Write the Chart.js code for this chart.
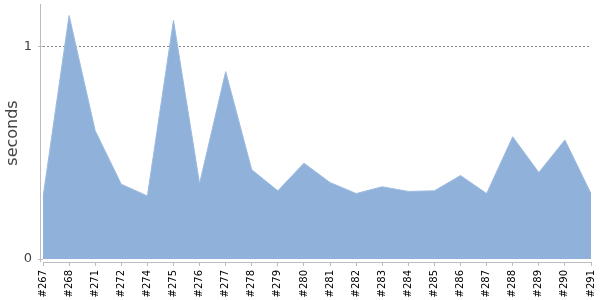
<!DOCTYPE html>
<html>
<head>
<meta charset="utf-8">
<script src="https://cdn.jsdelivr.net/npm/chart.js@4/dist/chart.umd.min.js"></script>
<style>
  html, body { margin: 0; padding: 0; background: #fff; }
  #wrap { width: 600px; height: 300px; }
</style>
</head>
<body>
<div id="wrap"><canvas id="buildChart"></canvas></div>
<script>
// Builds et durées (secondes)
const builds = ['#267', '#268', '#271', '#272', '#274', '#275', '#276', '#277', '#278', '#279', '#280',
                '#281', '#282', '#283', '#284', '#285', '#286', '#287', '#288', '#289', '#290', '#291'];
const durations = [0.29, 1.146, 0.604, 0.352, 0.297, 1.123, 0.355, 0.882, 0.42, 0.321, 0.451,
                   0.36, 0.308, 0.34, 0.318, 0.321, 0.393, 0.308, 0.575, 0.407, 0.56, 0.308];
const yTicks = [0, 1];

// Trace l'axe vertical un peu à gauche de la zone de tracé
const yAxisLine = {
    id: 'yAxisLine',
    afterDraw(chart) {
        const ctx = chart.ctx;
        const area = chart.chartArea;
        ctx.save();
        ctx.strokeStyle = '#bdbdbd';
        ctx.lineWidth = 1;
        ctx.beginPath();
        ctx.moveTo(area.left - 2.5, area.top);
        ctx.lineTo(area.left - 2.5, area.bottom);
        ctx.stroke();
        ctx.restore();
    }
};

function initBuildChart() {
    const ctx = document.getElementById('buildChart');

    new Chart(ctx, {
        type: 'line',
        data: {
            labels: builds,
            datasets: [{
                data: durations,
                fill: 'origin',
                backgroundColor: '#8fb1da',
                borderColor: '#9dbbe0',
                borderWidth: 1,
                pointRadius: 0,
                tension: 0
            }]
        },
        options: {
            responsive: true,
            maintainAspectRatio: false,
            animation: false,
            layout: { padding: { top: 4, right: 9, left: 0, bottom: 0 } },
            plugins: {
                legend: { display: false },
                tooltip: { enabled: false }
            },
            scales: {
                x: {
                    afterFit(scale) {
                        scale.paddingLeft = 0;
                        scale.paddingRight = 0;
                        scale.height = 38;
                    },
                    grid: {
                        drawOnChartArea: false,
                        tickLength: 4,
                        tickColor: '#bdbdbd'
                    },
                    border: { display: true, color: '#bdbdbd' },
                    ticks: {
                        autoSkip: false,
                        minRotation: 90,
                        maxRotation: 90,
                        padding: 4,
                        color: '#000',
                        font: { family: 'DejaVu Sans', size: 10 }
                    }
                },
                y: {
                    min: -0.014,
                    max: 1.2,
                    afterBuildTicks(scale) {
                        scale.ticks = yTicks.map(v => ({ value: v }));
                    },
                    afterFit(scale) {
                        scale.width = 43;
                        scale.paddingTop = 0;
                        scale.paddingBottom = 0;
                    },
                    grid: {
                        color: c => (c.tick && c.tick.value === 1) ? '#888' : 'rgba(0,0,0,0)',
                        tickColor: '#bdbdbd',
                        tickLength: 5
                    },
                    border: { display: false, dash: [2, 2] },
                    ticks: {
                        padding: 6,
                        color: '#444',
                        font: { family: 'DejaVu Sans', size: 13 }
                    },
                    title: {
                        display: true,
                        text: 'seconds',
                        color: '#444',
                        padding: { top: 3, bottom: 0 },
                        font: { family: 'DejaVu Sans', size: 16 }
                    }
                }
            }
        },
        plugins: [yAxisLine]
    });
}

document.addEventListener('DOMContentLoaded', function() {
    initBuildChart();
});
</script>
</body>
</html>
